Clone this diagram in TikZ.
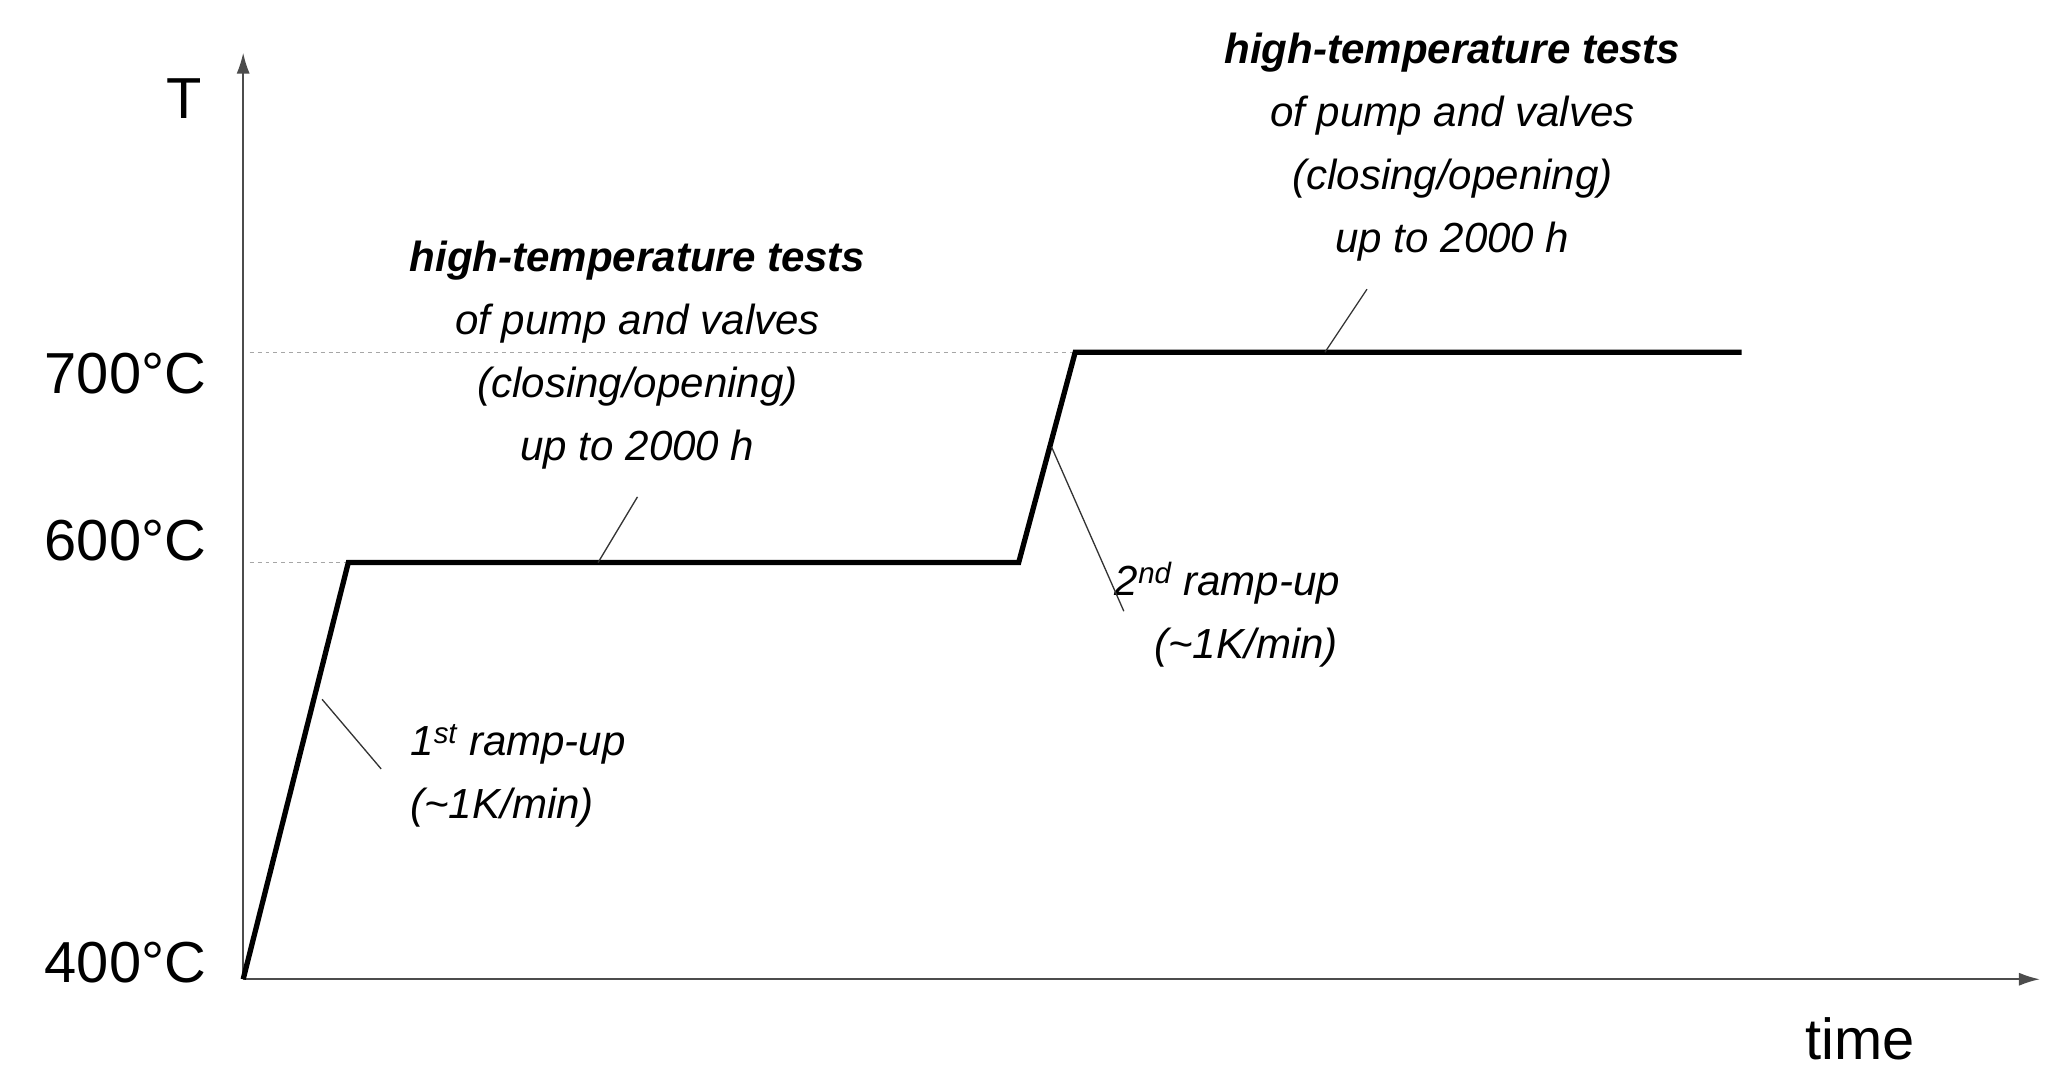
\documentclass[tikz,border=0pt]{standalone}
\usepackage{fontspec}
\setmainfont{Liberation Sans}
\usetikzlibrary{arrows.meta}
\begin{document}
\begin{tikzpicture}[x=1pt,y=-1pt,
  lab/.style={font=\fontsize{32}{48}\selectfont\itshape,align=center,inner sep=0},
  ax/.style={font=\fontsize{44}{50}\selectfont,inner sep=0},
  lead/.style={line width=1pt,black!80}]
\useasboundingbox (0,0) rectangle (1568,830);
\coordinate (o) at (185,745);
\coordinate (ytop) at (185,40);
\coordinate (xend) at (1552,745);
\draw[line width=1.5pt,black!70,-{Latex[length=16pt,width=10pt]}] (o) -- (ytop);
\draw[line width=1.5pt,black!70,-{Latex[length=16pt,width=10pt]}] (o) -- (xend);
\coordinate (p1) at (265,428);
\coordinate (p2) at (775,428);
\coordinate (p3) at (818,268);
\coordinate (p4) at (1325,268);
\draw[dashed,gray!70,line width=0.8pt] (190,268) -- (p3);
\draw[dashed,gray!70,line width=0.8pt] (190,428) -- (p1);
\draw[line width=4pt,line join=miter] (o) -- (p1) -- (p2) -- (p3) -- (p4);
\node[ax,anchor=east] (t4) at (157,732) {400°C};
\node[ax,anchor=east] (t6) at (157,411) {600°C};
\node[ax,anchor=east] (t7) at (157,284) {700°C};
\node[ax] (T) at (140,75) {T};
\node[ax] (time) at (1415,790) {time};
\node[lab] (L1) at (485,270) {\bfseries high-temperature tests\\of pump and valves\\(closing/opening)\\up to 2000 h};
\node[lab] (L2) at (1105,112) {\bfseries high-temperature tests\\of pump and valves\\(closing/opening)\\up to 2000 h};
\node[lab,align=left,anchor=west] (R1) at (312,590) {1\textsuperscript{st} ramp-up\\(\textasciitilde1K/min)};
\node[lab,align=left,anchor=west] (R2) at (848,468) {2\textsuperscript{nd} ramp-up\\\hspace*{30pt}(\textasciitilde1K/min)};
\coordinate (a1) at (455,428);
\coordinate (a2) at (1008,268);
\coordinate (a3) at (245,532);
\coordinate (a4) at (800,340);
\draw[lead] (485,378) -- (a1);
\draw[lead] (1040,220) -- (a2);
\draw[lead] (290,585) -- (a3);
\draw[lead] (855,465) -- (a4);
\end{tikzpicture}
\end{document}
